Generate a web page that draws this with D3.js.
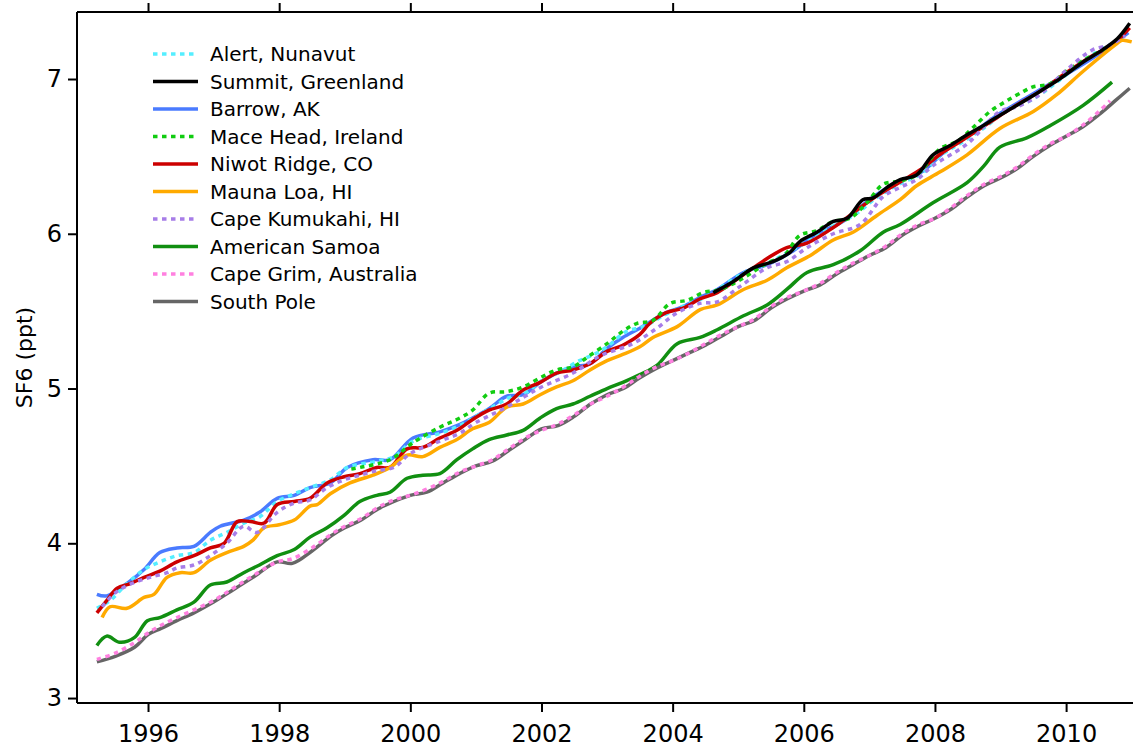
<!DOCTYPE html>
<html>
<head>
<meta charset="utf-8">
<title>SF6</title>
<script src="https://cdn.jsdelivr.net/npm/d3@7"></script>
<style>
  body { margin: 0; background: #fff; }
  text { font-family: "DejaVu Sans", sans-serif; fill: #000; }
</style>
</head>
<body>
<script>
// station records [year, SF6 ppt]
var alert_ = [[1995.22,3.58],[1995.42,3.63],[1995.68,3.74],[1995.94,3.83],[1996.18,3.88],[1996.44,3.92],[1996.7,3.94],[1996.95,4.02],[1997.2,4.07],[1997.46,4.13],[1997.7,4.17],[1997.97,4.27],[1998.23,4.32],[1998.47,4.36],[1998.78,4.41],[1999.04,4.49],[1999.49,4.53],[1999.75,4.56],[2000.04,4.66],[2000.45,4.71],[2000.75,4.76],[2001.0,4.82],[2001.25,4.88],[2001.5,4.94],[2001.75,4.97],[2002.0,5.05],[2002.25,5.10],[2002.58,5.18],[2002.8,5.22],[2003.0,5.27],[2003.3,5.37],[2003.55,5.40],[2003.9,5.48],[2004.2,5.54],[2004.5,5.59],[2004.75,5.66],[2005.1,5.75],[2005.45,5.81],[2005.8,5.89],[2006.1,5.96],[2006.45,6.05],[2006.8,6.13],[2007.1,6.23],[2007.45,6.32],[2007.8,6.39],[2008.1,6.51],[2008.45,6.60],[2008.8,6.70],[2009.1,6.80],[2009.45,6.86],[2009.8,6.96],[2010.1,7.06],[2010.45,7.17],[2010.8,7.25]];

var summit = [[2004.62,5.62],[2004.92,5.69],[2005.23,5.78],[2005.53,5.82],[2005.79,5.88],[2005.94,5.95],[2006.2,6.01],[2006.45,6.08],[2006.66,6.10],[2006.9,6.22],[2007.05,6.23],[2007.27,6.30],[2007.47,6.35],[2007.72,6.38],[2007.97,6.51],[2008.23,6.57],[2008.49,6.64],[2008.74,6.70],[2008.89,6.74],[2009.25,6.83],[2009.6,6.92],[2009.9,7.00],[2010.26,7.11],[2010.56,7.19],[2010.78,7.26],[2010.97,7.36]];

var barrow = [[1995.22,3.67],[1995.37,3.66],[1995.68,3.74],[1995.94,3.83],[1996.18,3.94],[1996.44,3.97],[1996.7,3.98],[1996.95,4.07],[1997.1,4.11],[1997.46,4.15],[1997.7,4.20],[1997.97,4.29],[1998.23,4.31],[1998.47,4.36],[1998.78,4.39],[1999.04,4.49],[1999.43,4.54],[1999.69,4.54],[2000.04,4.68],[2000.45,4.72],[2000.71,4.76],[2000.95,4.81],[2001.2,4.87],[2001.47,4.95],[2001.72,4.96],[2001.98,5.04],[2002.23,5.10],[2002.48,5.14],[2002.74,5.16],[2003.0,5.26],[2003.24,5.33],[2003.5,5.39],[2003.9,5.49],[2004.16,5.53],[2004.42,5.59],[2004.68,5.64],[2005.08,5.75],[2005.44,5.80],[2005.8,5.88],[2006.2,6.00],[2006.6,6.08],[2007.0,6.22],[2007.4,6.33],[2007.8,6.40],[2008.2,6.55],[2008.6,6.66],[2009.0,6.78],[2009.4,6.88],[2009.8,6.98],[2010.2,7.08],[2010.6,7.19],[2010.95,7.30]];

var maceHead = [[1999.1,4.48],[1999.23,4.49],[1999.69,4.54],[2000.04,4.65],[2000.45,4.75],[2000.71,4.80],[2000.95,4.86],[2001.2,4.97],[2001.47,4.98],[2001.72,5.01],[2001.98,5.07],[2002.23,5.12],[2002.48,5.14],[2002.69,5.20],[2003.0,5.29],[2003.24,5.37],[2003.45,5.42],[2003.7,5.44],[2003.96,5.55],[2004.22,5.57],[2004.47,5.62],[2004.73,5.64],[2005.1,5.72],[2005.44,5.81],[2005.7,5.86],[2005.94,5.99],[2006.2,6.02],[2006.45,6.08],[2006.7,6.10],[2006.96,6.20],[2007.21,6.32],[2007.45,6.34],[2007.72,6.38],[2008.08,6.55],[2008.35,6.60],[2008.59,6.69],[2008.84,6.79],[2009.1,6.86],[2009.35,6.92],[2009.5,6.95],[2009.76,6.97],[2010.0,7.05],[2010.26,7.12],[2010.67,7.21]];

var niwot = [[1995.22,3.55],[1995.37,3.63],[1995.53,3.71],[1995.73,3.74],[1995.94,3.78],[1996.18,3.82],[1996.44,3.88],[1996.7,3.92],[1996.95,3.97],[1997.16,4.00],[1997.36,4.14],[1997.56,4.14],[1997.77,4.13],[1997.97,4.25],[1998.23,4.27],[1998.47,4.29],[1998.73,4.39],[1998.99,4.43],[1999.23,4.45],[1999.49,4.49],[1999.69,4.49],[1999.95,4.61],[2000.19,4.62],[2000.45,4.68],[2000.71,4.73],[2000.95,4.80],[2001.2,4.86],[2001.47,4.90],[2001.72,4.99],[2001.98,5.04],[2002.23,5.10],[2002.48,5.12],[2002.74,5.16],[2003.0,5.24],[2003.24,5.28],[2003.5,5.35],[2003.65,5.42],[2003.9,5.49],[2004.16,5.52],[2004.42,5.58],[2004.68,5.62],[2005.03,5.72],[2005.44,5.84],[2005.74,5.91],[2006.05,5.94],[2006.45,6.04],[2006.8,6.15],[2007.1,6.24],[2007.45,6.33],[2007.8,6.42],[2008.1,6.52],[2008.4,6.60],[2008.8,6.71],[2009.2,6.82],[2009.6,6.92],[2010.0,7.04],[2010.4,7.15],[2010.7,7.22],[2010.97,7.33]];

var maunaLoa = [[1995.3,3.52],[1995.42,3.59],[1995.68,3.58],[1995.94,3.65],[1996.09,3.67],[1996.29,3.78],[1996.49,3.81],[1996.7,3.81],[1996.95,3.89],[1997.2,3.94],[1997.46,3.98],[1997.6,4.02],[1997.77,4.10],[1998.0,4.12],[1998.23,4.15],[1998.47,4.24],[1998.58,4.25],[1998.78,4.32],[1999.08,4.39],[1999.43,4.44],[1999.69,4.49],[1999.95,4.57],[2000.19,4.56],[2000.45,4.62],[2000.71,4.67],[2000.95,4.74],[2001.2,4.78],[2001.47,4.88],[2001.72,4.90],[2001.98,4.96],[2002.23,5.01],[2002.48,5.05],[2002.74,5.12],[2003.0,5.18],[2003.24,5.22],[2003.5,5.27],[2003.7,5.33],[2004.07,5.40],[2004.42,5.51],[2004.68,5.54],[2005.08,5.64],[2005.44,5.70],[2005.74,5.78],[2006.1,5.86],[2006.45,5.96],[2006.75,6.01],[2007.12,6.12],[2007.47,6.22],[2007.72,6.31],[2008.08,6.40],[2008.49,6.51],[2008.99,6.68],[2009.5,6.79],[2009.86,6.90],[2010.26,7.05],[2010.78,7.23],[2010.85,7.25],[2011.0,7.24]];

var kumukahi = [[1995.3,3.59],[1995.5,3.68],[1995.75,3.74],[1996.03,3.78],[1996.29,3.81],[1996.44,3.84],[1996.7,3.86],[1996.95,3.92],[1997.2,4.00],[1997.46,4.11],[1997.66,4.07],[1997.97,4.20],[1998.23,4.26],[1998.47,4.28],[1998.73,4.36],[1998.99,4.41],[1999.23,4.44],[1999.49,4.47],[1999.75,4.49],[2000.0,4.58],[2000.45,4.66],[2000.75,4.71],[2001.0,4.78],[2001.47,4.88],[2001.75,4.95],[2002.0,5.01],[2002.48,5.10],[2002.89,5.21],[2003.39,5.29],[2003.76,5.39],[2004.07,5.49],[2004.42,5.55],[2004.68,5.56],[2005.03,5.66],[2005.44,5.78],[2005.74,5.82],[2006.05,5.91],[2006.45,6.00],[2006.86,6.06],[2007.21,6.24],[2007.47,6.30],[2007.72,6.35],[2007.97,6.44],[2008.49,6.58],[2008.99,6.79],[2009.25,6.82],[2009.6,6.90],[2010.01,7.06],[2010.41,7.19],[2010.67,7.22],[2010.9,7.28]];

var samoa = [[1995.22,3.34],[1995.37,3.40],[1995.57,3.36],[1995.79,3.39],[1995.99,3.50],[1996.18,3.52],[1996.44,3.57],[1996.7,3.62],[1996.95,3.73],[1997.2,3.75],[1997.46,3.81],[1997.7,3.86],[1997.97,3.92],[1998.23,3.96],[1998.47,4.04],[1998.73,4.10],[1998.99,4.18],[1999.23,4.27],[1999.49,4.31],[1999.69,4.33],[1999.95,4.42],[2000.19,4.44],[2000.45,4.45],[2000.71,4.54],[2000.95,4.61],[2001.2,4.67],[2001.47,4.70],[2001.72,4.73],[2001.98,4.81],[2002.23,4.87],[2002.48,4.90],[2002.74,4.95],[2003.0,5.00],[2003.24,5.04],[2003.5,5.09],[2003.76,5.15],[2004.07,5.29],[2004.42,5.33],[2004.68,5.38],[2005.08,5.47],[2005.44,5.54],[2005.74,5.64],[2006.05,5.75],[2006.45,5.80],[2006.86,5.89],[2007.21,6.01],[2007.47,6.06],[2007.97,6.20],[2008.49,6.33],[2008.75,6.44],[2008.99,6.56],[2009.4,6.62],[2009.76,6.70],[2010.26,6.83],[2010.7,6.98]];

var capeGrim = [[1995.22,3.25],[1995.5,3.29],[1995.8,3.36],[1996.0,3.42],[1996.2,3.47],[1996.44,3.52],[1996.7,3.57],[1997.0,3.63],[1997.3,3.71],[1997.6,3.79],[1997.97,3.88],[1998.2,3.90],[1998.5,3.97],[1998.8,4.06],[1999.0,4.11],[1999.25,4.16],[1999.5,4.23],[1999.75,4.28],[2000.0,4.31],[2000.25,4.35],[2000.5,4.40],[2000.75,4.46],[2001.0,4.50],[2001.25,4.54],[2001.5,4.61],[2001.75,4.68],[2002.0,4.73],[2002.25,4.77],[2002.5,4.83],[2002.75,4.90],[2003.0,4.95],[2003.25,5.01],[2003.5,5.08],[2003.75,5.14],[2004.0,5.18],[2004.25,5.23],[2004.5,5.29],[2004.75,5.35],[2005.0,5.40],[2005.25,5.45],[2005.5,5.53],[2005.75,5.59],[2006.0,5.63],[2006.25,5.68],[2006.5,5.75],[2006.75,5.81],[2007.0,5.86],[2007.25,5.92],[2007.5,6.00],[2007.75,6.06],[2008.0,6.10],[2008.25,6.17],[2008.5,6.25],[2008.75,6.32],[2009.0,6.37],[2009.25,6.43],[2009.5,6.51],[2009.75,6.58],[2010.0,6.63],[2010.25,6.70],[2010.5,6.79],[2010.67,6.86]];

var southPole = [[1995.22,3.235],[1995.5,3.27],[1995.8,3.33],[1996.0,3.41],[1996.2,3.45],[1996.44,3.50],[1996.7,3.55],[1997.0,3.62],[1997.3,3.70],[1997.6,3.78],[1997.97,3.88],[1998.2,3.87],[1998.5,3.95],[1998.8,4.05],[1999.0,4.10],[1999.25,4.15],[1999.5,4.22],[1999.75,4.27],[2000.0,4.31],[2000.25,4.33],[2000.5,4.39],[2000.75,4.45],[2001.0,4.50],[2001.25,4.53],[2001.5,4.60],[2001.75,4.67],[2002.0,4.74],[2002.25,4.76],[2002.5,4.82],[2002.75,4.90],[2003.0,4.96],[2003.25,5.00],[2003.5,5.07],[2003.75,5.13],[2004.0,5.18],[2004.25,5.23],[2004.5,5.28],[2004.75,5.34],[2005.0,5.40],[2005.25,5.44],[2005.5,5.52],[2005.75,5.58],[2006.0,5.63],[2006.25,5.67],[2006.5,5.74],[2006.75,5.80],[2007.0,5.86],[2007.25,5.91],[2007.5,5.99],[2007.75,6.05],[2008.0,6.10],[2008.25,6.16],[2008.5,6.24],[2008.75,6.31],[2009.0,6.36],[2009.25,6.42],[2009.5,6.50],[2009.75,6.57],[2010.0,6.63],[2010.25,6.69],[2010.5,6.77],[2010.75,6.86],[2010.97,6.94]];

var names  = ["Alert, Nunavut","Summit, Greenland","Barrow, AK","Mace Head, Ireland","Niwot Ridge, CO","Mauna Loa, HI","Cape Kumukahi, HI","American Samoa","Cape Grim, Australia","South Pole"];
var series = [alert_, summit, barrow, maceHead, niwot, maunaLoa, kumukahi, samoa, capeGrim, southPole];
var colors = ["#55eeff","#000000","#4a7bff","#11cc11","#cc0000","#ffaa00","#a77de8","#118f11","#ff80e0","#666666"];
var dotted = [true,false,false,true,false,false,true,false,true,false];
// order in which the lines are stacked (last on top)
var drawOrder = [2,0,4,3,5,6,7,9,8,1];

var xTicks = [1996,1998,2000,2002,2004,2006,2008,2010];
var yTicks = [3,4,5,6,7];

var W = 1133, H = 750;
var L = 77, T = 12, B = 703;

var x = d3.scaleLinear().domain([1994.917, 2011.02]).range([L, W]);
var y = d3.scaleLinear().domain([2.968, 7.433]).range([B, T]);

var svg = d3.select("body").append("svg").attr("width", W).attr("height", H);

svg.append("defs").append("clipPath").attr("id", "plot")
  .append("rect").attr("x", L).attr("y", T).attr("width", W - L).attr("height", B - T);

var line = d3.line()
  .x(function(d) { return x(d[0]); })
  .y(function(d) { return y(d[1]); })
  .curve(d3.curveCatmullRom.alpha(0.5));

svg.append("g").attr("clip-path", "url(#plot)")
  .selectAll("path").data(drawOrder).enter().append("path")
  .attr("d", function(i) { return line(series[i]); })
  .attr("fill", "none")
  .attr("stroke", function(i) { return colors[i]; })
  .attr("stroke-width", 3.5)
  .attr("stroke-dasharray", function(i) { return dotted[i] ? "4.5,4.5" : null; });

// axes
var bottom = svg.append("g").attr("transform", "translate(0," + B + ")")
  .call(d3.axisBottom(x).tickValues(xTicks).tickFormat(d3.format("d")).tickSize(9).tickPadding(13));
var top_ = svg.append("g").attr("transform", "translate(0," + T + ")")
  .call(d3.axisTop(x).tickValues(xTicks).tickFormat("").tickSize(9));
var left = svg.append("g").attr("transform", "translate(" + L + ",0)")
  .call(d3.axisLeft(y).tickValues(yTicks).tickFormat(d3.format("d")).tickSize(9).tickPadding(6));

[bottom, top_, left].forEach(function(g) {
  g.select(".domain").attr("stroke-width", 2).attr("stroke", "#000");
  g.selectAll(".tick line").attr("stroke-width", 2).attr("stroke", "#000");
  g.selectAll("text").style("font-family", "'DejaVu Sans', sans-serif").style("font-size", "24px").attr("fill", "#000");
});
// keep the frame square at the corners
bottom.select(".domain").attr("d", "M" + L + ",0H" + W);
top_.select(".domain").attr("d", "M" + L + ",0H" + W);
left.select(".domain").attr("d", "M0," + T + "V" + B);

svg.append("text")
  .attr("transform", "translate(32," + ((T + B) / 2) + ") rotate(-90)")
  .attr("text-anchor", "middle")
  .style("font-size", "22px")
  .text("SF6 (ppt)");

// legend
var leg = svg.append("g").attr("transform", "translate(153,54)");
var rows = leg.selectAll("g").data(names).enter().append("g")
  .attr("transform", function(d, i) { return "translate(0," + (i * 27.5) + ")"; });
rows.append("line")
  .attr("x1", 0).attr("x2", 45).attr("y1", 0).attr("y2", 0)
  .attr("stroke", function(d, i) { return colors[i]; })
  .attr("stroke-width", 3.5)
  .attr("stroke-dasharray", function(d, i) { return dotted[i] ? "4.5,4.5" : null; });
rows.append("text")
  .attr("x", 57).attr("y", 0).attr("dy", "0.36em")
  .style("font-size", "20px")
  .text(function(d) { return d; });
</script>
</body>
</html>
